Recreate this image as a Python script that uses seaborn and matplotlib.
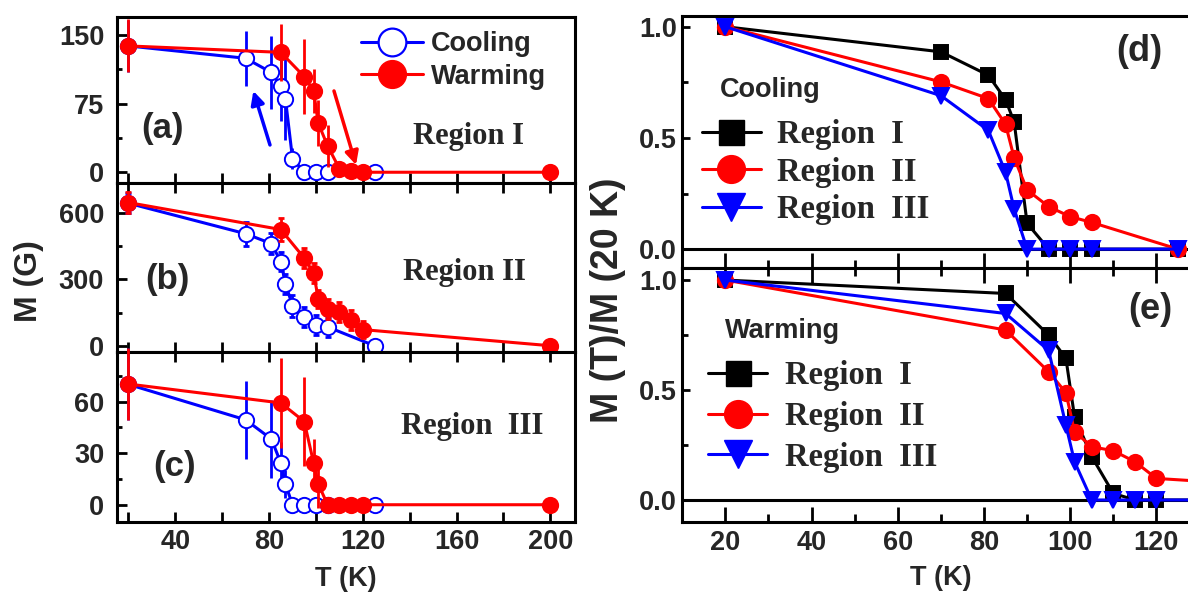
import matplotlib
matplotlib.use("Agg")
import matplotlib.pyplot as plt
import seaborn as sns
import pandas as pd
from matplotlib.ticker import MultipleLocator, FuncFormatter
from matplotlib.lines import Line2D
from matplotlib.font_manager import FontProperties

# ---------------- data ----------------
T_cool = [20, 70, 81, 85, 87, 90, 95, 100, 105, 125]
T_warm = [20, 85, 95, 99, 101, 105, 110, 115, 120, 200]

# panel (a) Region I, M (G)
a_cool = [138, 124.5, 109, 94, 80, 15, 0, 0, 0, 0]
a_cool_err = [28, 30, 40, 38, 45, 12, 0, 0, 0, 0]
a_warm = [138, 131, 104.5, 89, 53.5, 28.7, 4, 1, 0, 0]
a_warm_err = [29, 31, 41, 24, 25, 23, 4, 0, 0, 0]

# panel (b) Region II
b_cool = [645, 507, 462, 381, 281, 181, 130, 95, 85, 0]
b_cool_err = [45, 55, 49, 45, 45, 50, 47, 45, 45, 0]
b_warm = [648, 526, 397, 329, 212, 166, 151, 118, 73, 0]
b_warm_err = [49, 53, 45, 45, 42, 45, 45, 45, 40, 0]

# panel (c) Region III
c_cool = [70, 49.4, 38.2, 24.4, 12, 0, 0, 0, 0, 0]
c_cool_err = [21, 22.6, 22.6, 12, 8, 0, 0, 0, 0, 0]
c_warm = [70.2, 59.2, 48.4, 24.4, 12, 0, 0, 0, 0, 0]
c_warm_err = [21, 26, 25.6, 14, 14, 0, 0, 0, 0, 0]

# panel (d) cooling, M(T)/M(20 K)
d_I = [1.0, 0.887, 0.782, 0.672, 0.571, 0.116, 0, 0, 0, 0]
d_II = [1.0, 0.752, 0.677, 0.561, 0.41, 0.266, 0.191, 0.146, 0.12, 0]
d_III = [1.0, 0.69, 0.534, 0.346, 0.18, 0, 0, 0, 0, 0]

# panel (e) warming, M(T)/M(20 K)
e_I = [1.0, 0.939, 0.75, 0.644, 0.379, 0.197, 0.03, 0, 0, 0]
e_II = [1.0, 0.773, 0.583, 0.488, 0.311, 0.242, 0.224, 0.174, 0.098, 0]
e_III = [1.0, 0.848, 0.68, 0.34, 0.174, 0, 0, 0, 0, 0]

region_labels = ["Region  I", "Region  II", "Region  III"]

# ---------------- style ----------------
sns.set_theme(style="ticks")
plt.rcParams.update({
    "font.family": ["Liberation Sans", "DejaVu Sans"],
    "font.weight": "bold",
    "axes.labelweight": "bold",
    "axes.linewidth": 2.2,
    "xtick.labelsize": 19.5,
    "ytick.labelsize": 19.5,
    "axes.facecolor": "white",
    "figure.facecolor": "white",
})
SERIF = FontProperties(family=["Liberation Serif", "DejaVu Serif"], weight="bold", size=22)
SERIF_LEG = FontProperties(family=["Liberation Serif", "DejaVu Serif"], weight="bold", size=23.5)
SANS_LEG = FontProperties(family=["Liberation Sans", "DejaVu Sans"], weight="bold", size=19.5)

BLUE, RED = "#0000FF", "#FF0000"

fig = plt.figure(figsize=(11.88, 5.96), dpi=100)

L, W = 0.0982, 0.3858
axA = fig.add_axes([L, 0.6935, W, 0.2775])
axB = fig.add_axes([L, 0.4099, W, 0.2836])
axC = fig.add_axes([L, 0.1237, W, 0.2862])
RL, RW = 0.5743, 0.4354
axD = fig.add_axes([RL, 0.5503, RW, 0.4228])
axE = fig.add_axes([RL, 0.1242, RW, 0.4262])


def line(ax, x, y, color, marker, ms, mfc, z, lw=2.2, mew=1.4):
    df = pd.DataFrame({"T": x, "V": y})
    sns.lineplot(data=df, x="T", y="V", ax=ax, errorbar=None, sort=False,
                 color=color, marker=marker, markersize=ms, markerfacecolor=mfc,
                 markeredgecolor=color, markeredgewidth=mew, linewidth=lw, zorder=z)
    ax.set_xlabel("")
    ax.set_ylabel("")


def bars(ax, x, y, err, color, z, cap=0, clip=True):
    eb = ax.errorbar(x, y, yerr=err, fmt="none", ecolor=color, elinewidth=2,
                     capsize=cap, capthick=2, zorder=z)
    if not clip:
        for art in eb.lines[2]:
            art.set_clip_on(False)


def style_left(ax, ylim, major, minor, top, labels):
    ax.set_xlim(15, 210.5)
    ax.set_ylim(*ylim)
    ax.xaxis.set_major_locator(MultipleLocator(20))
    ax.xaxis.set_major_formatter(FuncFormatter(
        lambda v, p: (f"{int(round(v))}" if labels and round(v) % 40 == 0 else "")))
    ax.yaxis.set_major_locator(MultipleLocator(major))
    ax.yaxis.set_minor_locator(MultipleLocator(minor))
    ax.yaxis.set_major_formatter(FuncFormatter(lambda v, p: f"{int(round(v))}"))
    ax.tick_params(axis="both", which="both", direction="in", width=2,
                   top=top, bottom=True, left=True, right=False, color="black")
    ax.tick_params(which="major", length=7.2)
    ax.tick_params(axis="y", which="major", pad=9)
    ax.tick_params(axis="x", which="major", pad=5)
    ax.tick_params(which="minor", length=3.6)
    for s in ax.spines.values():
        s.set_linewidth(2.2)
        s.set_color("black")


# ---- left panels ----
for ax, cv, ce, wv, we, cap in [
    (axA, a_cool, a_cool_err, a_warm, a_warm_err, 0),
    (axB, b_cool, b_cool_err, b_warm, b_warm_err, 2.5),
    (axC, c_cool, c_cool_err, c_warm, c_warm_err, 0),
]:
    bars(ax, T_cool, cv, ce, BLUE, 2, cap, clip=(ax is not axC))
    line(ax, T_cool, cv, BLUE, "o", 11, "white", 3)
    bars(ax, T_warm, wv, we, RED, 4, cap, clip=(ax is not axC))
    line(ax, T_warm, wv, RED, "o", 11, RED, 5)

style_left(axA, (-11.4, 169.3), 75, 37.5, False, False)
style_left(axB, (-27, 738), 300, 150, True, False)
style_left(axC, (-10.2, 89), 30, 15, True, True)

axA.annotate("", xy=(73.3, 88.8), xytext=(80.4, 29.8),
             arrowprops=dict(arrowstyle="-|>", color=BLUE, lw=2.5, mutation_scale=20,
                             shrinkA=0, shrinkB=0), zorder=6)
axA.annotate("", xy=(117.1, 8), xytext=(107.7, 88.8),
             arrowprops=dict(arrowstyle="-|>", color=RED, lw=2.5, mutation_scale=20,
                             shrinkA=0, shrinkB=0), zorder=6)

axA.text(0.099, 0.328, "(a)", transform=axA.transAxes, fontsize=25, fontweight="bold",
         ha="center", va="center")
axB.text(0.111, 0.43, "(b)", transform=axB.transAxes, fontsize=25, fontweight="bold",
         ha="center", va="center")
axC.text(0.127, 0.327, "(c)", transform=axC.transAxes, fontsize=25, fontweight="bold",
         ha="center", va="center")
axA.text(0.768, 0.28, "Region I", transform=axA.transAxes, fontproperties=SERIF,
         ha="center", va="center")
axB.text(0.758, 0.47, "Region II", transform=axB.transAxes, fontproperties=SERIF,
         ha="center", va="center")
axC.text(0.775, 0.56, "Region  III", transform=axC.transAxes, fontproperties=SERIF,
         ha="center", va="center")

leg_handles = [
    Line2D([], [], color=BLUE, marker="o", mfc="white", mec=BLUE, ms=20, lw=2.2, mew=1.6),
    Line2D([], [], color=RED, marker="o", mfc=RED, mec=RED, ms=20, lw=2.2),
]
axA.legend(leg_handles, ["Cooling", "Warming"], loc="center left",
           bbox_to_anchor=(0.533, 0.739), frameon=False, prop=SANS_LEG,
           handlelength=2.3, handletextpad=0.3, labelspacing=0.25,
           borderpad=0, borderaxespad=0)

axC.set_xlabel("T (K)", fontsize=19.5, fontweight="bold", labelpad=8)
fig.text(29 / 1188, 1 - 281 / 596, "M (G)", rotation=90, fontsize=23,
         fontweight="bold", ha="center", va="center")

# ---- right panels ----
def style_right(ax, ylim, top, labels):
    ax.set_xlim(10, 130)
    ax.set_ylim(*ylim)
    ax.xaxis.set_major_locator(MultipleLocator(20))
    ax.xaxis.set_minor_locator(MultipleLocator(10))
    ax.xaxis.set_major_formatter(FuncFormatter(
        lambda v, p: (f"{int(round(v))}" if labels else "")))
    ax.yaxis.set_major_locator(MultipleLocator(0.5))
    ax.yaxis.set_minor_locator(MultipleLocator(0.25))
    ax.yaxis.set_major_formatter(FuncFormatter(lambda v, p: f"{v:.1f}"))
    ax.tick_params(axis="both", which="both", direction="in", width=2,
                   top=top, bottom=True, left=True, right=False, color="black")
    ax.tick_params(axis="x", which="major", length=11, pad=6)
    ax.tick_params(axis="x", which="minor", length=6)
    ax.tick_params(axis="y", which="major", length=6, pad=4)
    ax.tick_params(axis="y", which="minor", length=4)
    for s in ax.spines.values():
        s.set_linewidth(2.2)
        s.set_color("black")
    ax.axhline(0, color="black", lw=2.2, zorder=1)


for ax, T, sI, sII, sIII in [(axD, T_cool, d_I, d_II, d_III),
                              (axE, T_warm, e_I, e_II, e_III)]:
    line(ax, T, sI, "black", "s", 10, "black", 3)
    line(ax, T, sII, RED, "o", 11, RED, 4)
    line(ax, T, sIII, BLUE, "v", 11, BLUE, 5)

style_right(axD, (-0.085, 1.048), False, False)
style_right(axE, (-0.1, 1.055), True, True)

reg_handles = [
    Line2D([], [], color="black", marker="s", mfc="black", mec="black", ms=18, lw=2.2),
    Line2D([], [], color=RED, marker="o", mfc=RED, mec=RED, ms=20, lw=2.2),
    Line2D([], [], color=BLUE, marker="v", mfc=BLUE, mec=BLUE, ms=20, lw=2.2),
]
axD.legend(reg_handles, region_labels, loc="center left", bbox_to_anchor=(0.038, 0.381),
           frameon=False, prop=SERIF_LEG, handlelength=1.8, handletextpad=0.5,
           labelspacing=0.2, borderpad=0, borderaxespad=0)
axE.legend(reg_handles, region_labels, loc="center left", bbox_to_anchor=(0.05, 0.415),
           frameon=False, prop=SERIF_LEG, handlelength=1.8, handletextpad=0.55,
           labelspacing=0.3, borderpad=0, borderaxespad=0)

axD.text(18.7, 0.715, "Cooling", fontsize=19.5, fontweight="bold", ha="left", va="center")
axE.text(19.9, 0.77, "Warming", fontsize=19.5, fontweight="bold", ha="left", va="center")
axD.text(116, 0.89, "(d)", fontsize=26, fontweight="bold", ha="center", va="center")
axE.text(118.6, 0.864, "(e)", fontsize=26, fontweight="bold", ha="center", va="center")

axE.set_xlabel("T (K)", fontsize=19.5, fontweight="bold", labelpad=6)
fig.text(608 / 1188, 1 - 300 / 596, "M (T)/M (20 K)", rotation=90, fontsize=27,
         fontweight="bold", ha="center", va="center")

fig.savefig("out.png", dpi=100)
